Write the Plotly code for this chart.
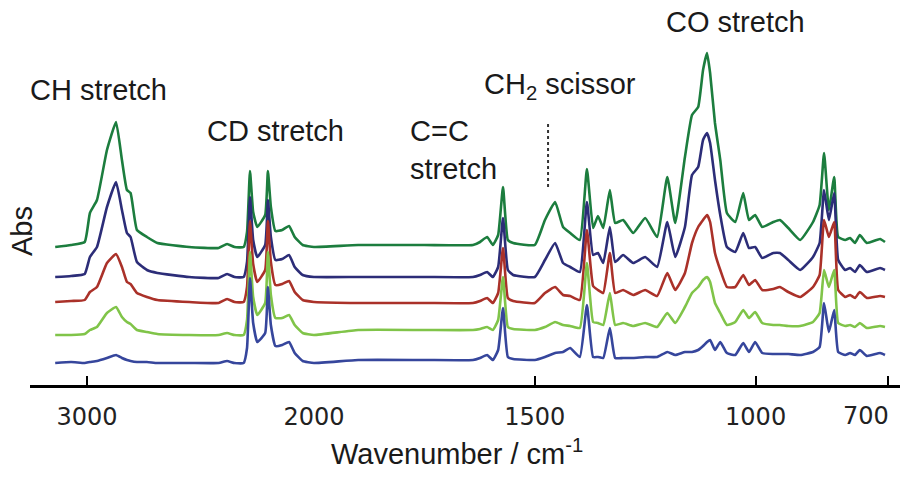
import plotly.graph_objects as go

# Wavenumber grid (cm-1)
wavenumber = [3140, 3070, 3010, 2987, 2956, 2912, 2872, 2846, 2824, 2808, 2780, 2736, 2690, 2550, 2420, 2383, 2350,
              2310, 2295, 2282, 2268, 2250, 2215, 2203, 2190, 2170, 2140, 2110, 2085, 2050, 2000,
              1900, 1750, 1640, 1624, 1608, 1595, 1583, 1572, 1561, 1549, 1500, 1477, 1454, 1436, 1420, 1398,
              1382, 1368, 1357, 1345, 1330, 1318, 1300, 1277, 1250, 1223, 1200, 1182, 1160, 1144, 1130, 1119,
              1110, 1103, 1092, 1080, 1065, 1046, 1028, 1015, 1001, 985, 960, 945, 926, 899, 870, 855,
              845, 834, 822, 813, 797, 786, 775, 764, 748, 718, 707]

# Absorbance (arbitrary units, offset spectra), top to bottom
abs_green = [138, 140, 143, 172, 185, 235, 263, 225, 195, 192, 155, 148, 142, 138, 137, 141, 138,
             138, 153, 214, 173, 158, 170, 214, 178, 154, 155, 159, 148, 140, 138,
             140, 140, 140, 143, 148, 140, 150, 198, 145, 142, 140, 165, 183, 158, 152, 145,
             216, 157, 169, 157, 195, 162, 165, 152, 167, 148, 208, 162, 228, 270, 278, 315,
             332, 312, 262, 225, 172, 163, 192, 165, 170, 158, 163, 165, 157, 145, 163, 180,
             232, 175, 208, 148, 145, 147, 142, 150, 142, 146, 143]
abs_navy = [108, 109, 111, 128, 138, 178, 203, 175, 152, 148, 123, 115, 112, 108, 107, 111, 108,
            108, 123, 188, 145, 128, 140, 185, 148, 125, 126, 130, 118, 110, 108,
            108, 108, 108, 110, 113, 108, 118, 167, 115, 110, 108, 125, 142, 122, 118, 113,
            183, 130, 132, 122, 158, 123, 130, 122, 128, 118, 163, 128, 158, 210, 218, 245,
            252, 242, 205, 170, 138, 133, 152, 137, 138, 127, 132, 132, 125, 115, 128, 142,
            195, 165, 192, 125, 115, 117, 113, 120, 113, 117, 115]
abs_red = [83, 84, 85, 93, 98, 122, 131, 118, 103, 101, 92, 88, 85, 83, 82, 86, 83,
           83, 98, 164, 121, 103, 115, 164, 123, 100, 101, 104, 93, 85, 83,
           82, 82, 82, 84, 87, 82, 92, 137, 87, 84, 82, 92, 98, 90, 89, 85,
           155, 99, 95, 92, 132, 92, 95, 90, 95, 89, 112, 95, 112, 142, 158, 165,
           170, 163, 132, 115, 98, 98, 110, 100, 105, 95, 96, 98, 93, 88, 98, 110,
           165, 148, 163, 95, 88, 90, 87, 93, 87, 89, 88]
abs_lightgreen = [50, 50, 51, 55, 58, 72, 78, 68, 63, 61, 55, 53, 51, 50, 50, 52, 50,
                  50, 65, 133, 88, 70, 82, 133, 90, 67, 67, 70, 60, 52, 50,
                  55, 55, 55, 56, 58, 55, 65, 108, 58, 56, 55, 58, 63, 60, 59, 57,
                  122, 63, 62, 60, 92, 60, 62, 59, 62, 58, 72, 62, 78, 92, 98, 105,
                  108, 103, 82, 72, 60, 63, 75, 67, 73, 62, 60, 60, 59, 59, 63, 72,
                  115, 98, 115, 62, 59, 60, 58, 62, 57, 59, 58]
abs_blue = [22, 23, 22, 23, 24, 27, 30, 27, 25, 24, 23, 23, 22, 22, 22, 24, 22,
            22, 37, 107, 62, 43, 52, 98, 60, 39, 40, 43, 32, 24, 22,
            25, 25, 25, 27, 30, 25, 35, 77, 28, 26, 25, 28, 32, 33, 37, 28,
            80, 28, 28, 27, 57, 27, 27, 27, 28, 28, 33, 30, 33, 33, 35, 39,
            43, 45, 35, 43, 32, 30, 42, 33, 43, 32, 31, 31, 31, 30, 33, 38,
            82, 53, 75, 33, 30, 32, 30, 35, 29, 32, 30]

series = [abs_green, abs_navy, abs_red, abs_lightgreen, abs_blue]
colors = ["#1c7d3e", "#2c2d78", "#aa3129", "#80c449", "#36469c"]

upper_ticks = [3000]
lower_ticks = [2000, 1500, 1000, 700]
lower_ticktext = ["2000", "1500", "1000", ""]
edge_tick_label = "700"
dotted_wn = 1470

fig = go.Figure()
for ys, c in zip(series, colors):
    for xa in ["x", "x2"]:
        fig.add_trace(go.Scatter(x=wavenumber, y=ys, mode="lines", xaxis=xa, yaxis="y",
                                 line=dict(color=c, width=2.6, shape="spline", smoothing=0.4),
                                 showlegend=False, hoverinfo="skip"))

split = (314 - 30) / 870
tick_font = dict(family="DejaVu Sans", size=24, color="#222")
axis_common = dict(showline=True, linecolor="black", linewidth=2.5, ticks="inside", ticklen=9,
                   tickwidth=2, tickcolor="black", showgrid=False, zeroline=False,
                   ticklabelstandoff=8, automargin=False, tickfont=tick_font)
fig.update_layout(
    width=900, height=479,
    margin=dict(l=30, r=0, t=0, b=94),
    paper_bgcolor="white", plot_bgcolor="white",
    xaxis=dict(domain=[0, split], range=[3251, 2000], tickvals=upper_ticks,
               ticktext=[str(v) for v in upper_ticks], anchor="y", **axis_common),
    xaxis2=dict(domain=[split, 1], range=[2000, 673], tickvals=lower_ticks,
                ticktext=lower_ticktext, anchor="y", **axis_common),
    yaxis=dict(range=[0, 385], showticklabels=False, showline=False, showgrid=False,
               zeroline=False, ticks="", automargin=False),
)

ann_font = dict(family="Liberation Sans, Arial", size=29, color="#1a1a1a")
def pxx(px):
    return (px - 30) / 870
def pxy(py):
    return (385 - py) / 385

labels = [
    ("CH stretch", 98, 90, "center"),
    ("CD stretch", 275, 131, "center"),
    ("CH<sub>2</sub> scissor", 560, 86, "center"),
    ("CO stretch", 735, 22, "center"),
]
for t, x, y, a in labels:
    fig.add_annotation(text=t, x=pxx(x), y=pxy(y), xref="paper", yref="paper",
                       xanchor=a, yanchor="middle", showarrow=False, font=ann_font)
fig.add_annotation(text="C=C<br>stretch", x=pxx(408), y=pxy(150), xref="paper", yref="paper",
                   xanchor="left", yanchor="middle", align="left", showarrow=False, font=ann_font)
fig.add_annotation(text="Abs", x=pxx(22), y=pxy(231), xref="paper", yref="paper", textangle=-90,
                   xanchor="center", yanchor="middle", showarrow=False, font=ann_font)
fig.add_annotation(text="Wavenumber / cm<sup>-1</sup>", x=pxx(457), y=-(452 - 385) / 385,
                   xref="paper", yref="paper", xanchor="center", yanchor="middle", showarrow=False,
                   font=ann_font)
# label of the last tick, shifted left so it stays inside the picture
fig.add_annotation(text=edge_tick_label, x=pxx(866), y=pxy(416), xref="paper", yref="paper",
                   xanchor="center", yanchor="middle", showarrow=False, font=tick_font)

fig.add_shape(type="line", xref="x2", yref="y", x0=dotted_wn, x1=dotted_wn, y0=198, y1=263,
              line=dict(color="#333", width=2, dash="dot"))

fig.write_html("out.html", config={"displayModeBar": False},
               post_script="document.body.style.margin='0';")
